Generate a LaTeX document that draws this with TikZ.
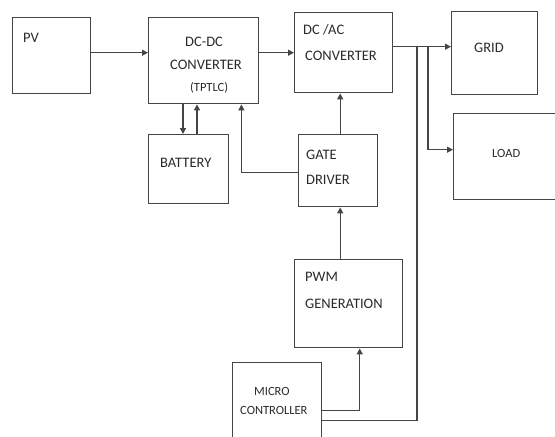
\documentclass[tikz,border=0pt]{standalone}
\usepackage{fontspec}
\setmainfont{Carlito}
\usetikzlibrary{arrows.meta}
\definecolor{linec}{HTML}{454545}
\definecolor{textc}{HTML}{2A2A2A}
\tikzset{
  box/.style={draw=linec, line width=1.4pt, anchor=north west, inner sep=0pt},
  lbl/.style={text=textc, font=\fontsize{14.5}{15}\selectfont, inner sep=0pt, anchor=west},
  slbl/.style={text=textc, font=\fontsize{12.5}{13}\selectfont, inner sep=0pt, anchor=west},
  wire/.style={draw=linec, line width=1.3pt},
  arr/.style={wire, -{Triangle[length=6pt,width=6pt]}},
}
\begin{document}
\begin{tikzpicture}[x=1pt,y=-1pt]
\useasboundingbox (0,0) rectangle (555,437);
\clip (0,0) rectangle (555,437);
% boxes
\node[box, minimum width=78pt, minimum height=76pt] (pv) at (12,17) {};
\node[box, minimum width=110pt, minimum height=86pt] (dcdc) at (148,17) {};
\node[box, minimum width=80pt, minimum height=69pt] (bat) at (148,134) {};
\node[box, minimum width=98pt, minimum height=80pt] (dcac) at (294,12) {};
\node[box, minimum width=86pt, minimum height=83pt] (grid) at (451,11) {};
\node[box, minimum width=110pt, minimum height=86pt] (load) at (453,113) {};
\node[box, minimum width=79pt, minimum height=72pt] (gate) at (298,134) {};
\node[box, minimum width=108pt, minimum height=88pt] (pwm) at (294,259) {};
\node[box, minimum width=89pt, minimum height=90pt] (mc) at (232,362) {};
% labels
\node[lbl] (tpv) at (23,38) {PV};
\node[lbl] (t1) at (185,42) {DC-DC};
\node[lbl] (t2) at (170,65) {CONVERTER};
\node[slbl] (t3) at (190,88) {(TPTLC)};
\node[lbl] (tbat) at (160,163) {BATTERY};
\node[lbl] (t4) at (303,30) {DC /AC};
\node[lbl] (t5) at (305,56) {CONVERTER};
\node[lbl] (tgrid) at (474,48) {GRID};
\node[slbl] (tload) at (492,153) {LOAD};
\node[lbl] (t6) at (306,155) {GATE};
\node[lbl] (t7) at (306,180) {DRIVER};
\node[lbl] (t8) at (305,277) {PWM};
\node[lbl] (t9) at (305,304) {GENERATION};
\node[slbl] (t10) at (254,391) {MICRO};
\node[slbl] (t11) at (240,410) {CONTROLLER};
% connectors
\draw[arr] ([yshift=3pt]pv.east) -- ([yshift=3pt]pv.east -| dcdc.west);
\draw[arr] (dcac.west -| dcdc.east) -- (dcac.west);
\draw[arr] ([xshift=35pt]dcdc.south west) -- ([xshift=35pt]dcdc.south west |- bat.north);
\draw[arr] ([xshift=49pt]bat.north west) -- ([xshift=49pt]bat.north west |- dcdc.south);
\draw[arr] ([yshift=-2pt]gate.west) -| ([xshift=-18pt]dcdc.south east);
\draw[arr] ([xshift=2pt]gate.north) -- ([xshift=2pt]gate.north |- dcac.south);
\draw[arr] ([xshift=2pt]gate.north |- pwm.north) -- ([xshift=2pt]gate.south);
\coordinate (j1) at ([yshift=6pt]dcac.east -| 417,0);
\coordinate (j2) at ([yshift=6pt]dcac.east -| 428,0);
\draw[arr] ([yshift=6pt]dcac.east) -- ([yshift=6pt]dcac.east -| grid.west);
\draw[arr] (j2) |- ([yshift=7pt]load.west);
\draw[arr] ([yshift=-3pt]mc.east) -| ([xshift=11pt]pwm.south);
\draw[wire] ([yshift=-13pt]mc.east) -| (j1);
\end{tikzpicture}
\end{document}
